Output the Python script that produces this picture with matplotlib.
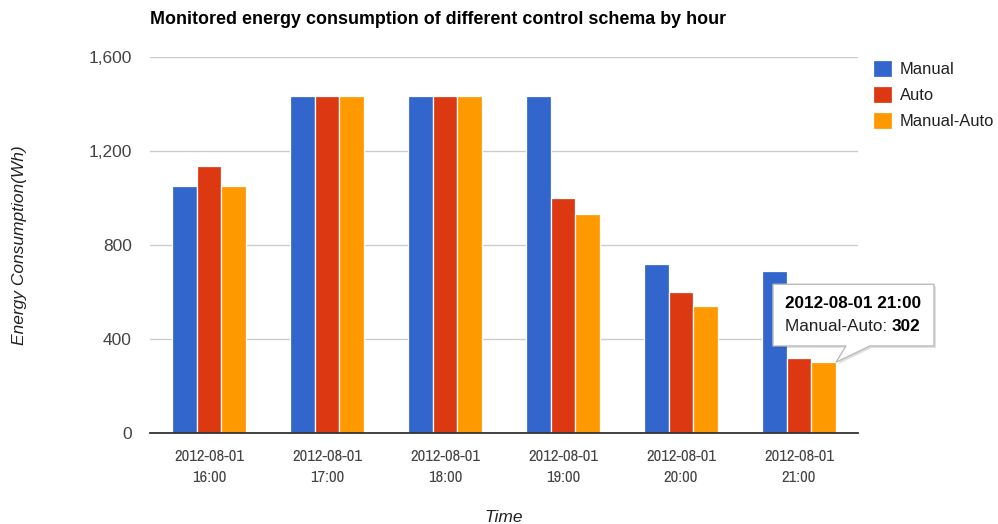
import matplotlib
matplotlib.use("Agg")
import matplotlib.pyplot as plt
import matplotlib.patches as mpatches
from matplotlib.transforms import IdentityTransform
from matplotlib import font_manager
import numpy as np

categories = ["2012-08-01\n16:00", "2012-08-01\n17:00", "2012-08-01\n18:00",
              "2012-08-01\n19:00", "2012-08-01\n20:00", "2012-08-01\n21:00"]
manual = [1053, 1436, 1436, 1436, 720, 688]
auto = [1137, 1436, 1436, 1000, 600, 319]
manual_auto = [1053, 1436, 1436, 933, 543, 302]
series_names = ["Manual", "Auto", "Manual-Auto"]
colors = ["#3366CC", "#DC3912", "#FF9900"]
yticks = [0, 400, 800, 1200, 1600]
ytick_labels = ["0", "400", "800", "1,200", "1,600"]

plt.rcParams['font.family'] = ['Liberation Sans', 'DejaVu Sans']

# look for a condensed sans font for the x labels
narrow = None
for f in font_manager.fontManager.ttflist:
    n = f.name
    if ("Narrow" in n or "Condensed" in n) and "Mono" not in n and "Serif" not in n:
        narrow = n
        break

W, H = 998, 524
fig = plt.figure(figsize=(W / 100, H / 100), dpi=100)
ax = fig.add_axes([150 / W, 1 - 433.3 / H, 708 / W, (433.3 - 57) / H])

x = np.arange(len(categories))
bw = 0.209
series = [manual, auto, manual_auto]
for j, (vals, c, name) in enumerate(zip(series, colors, series_names)):
    ax.bar(x + (j - 1) * bw, vals, width=bw, color=c, edgecolor="white",
           linewidth=0.9, label=name, zorder=3)

ax.set_xlim(-0.5, len(categories) - 0.5)
ax.set_ylim(0, 1600)
ax.set_yticks(yticks)
ax.set_yticklabels(ytick_labels)
ax.set_xticks(x)
ax.set_xticklabels(categories)
ax.grid(axis="y", color="#CCCCCC", linewidth=1, zorder=0)
for s in ["top", "right", "left"]:
    ax.spines[s].set_visible(False)
ax.spines["bottom"].set_color("#333333")
ax.spines["bottom"].set_linewidth(1.3)
ax.spines["bottom"].set_zorder(4)
ax.tick_params(axis="both", length=0, colors="#444444")
ax.tick_params(axis="y", pad=13, labelsize=12.5)
ax.tick_params(axis="x", pad=11)
for lab in ax.get_xticklabels():
    if narrow:
        lab.set_family([narrow, 'Liberation Sans'])
        lab.set_fontsize(12)
    else:
        lab.set_fontsize(11.2)
    lab.set_linespacing(1.5)

fig.text(150 / W, 1 - 20 / H, "Monitored energy consumption of different control schema by hour",
         fontsize=12.9, fontweight="bold", ha="left", va="center", color="black")
fig.text(20 / W, 1 - 245 / H, "Energy Consumption(Wh)", rotation=90, fontsize=12.5,
         fontstyle="italic", ha="center", va="center", color="#222222")
fig.text(504 / W, 1 - 517 / H, "Time", fontsize=12.5, fontstyle="italic",
         ha="center", va="center", color="#222222")

leg = fig.legend(loc="upper left", bbox_to_anchor=(866 / W, 1 - 53 / H), frameon=False,
                 fontsize=11.9, handlelength=1.2, handleheight=1.2, handletextpad=0.45,
                 labelspacing=0.55, borderaxespad=0)
for t in leg.get_texts():
    t.set_color("#222222")

# Tooltip anchored at the top-right corner of the last Manual-Auto bar
ax_x = x[-1] + bw + bw / 2
ax_y = manual_auto[-1]
px, py = ax.transData.transform((ax_x, ax_y))
box = [(-63, 16.3), (10, 16.3), (0, 0), (34, 16.3), (98, 16.3), (98, 78), (-63, 78)]
shadow = [(px + dx + 2, py + dy - 2) for dx, dy in box]
fig.patches.append(mpatches.Polygon(shadow, closed=True, transform=IdentityTransform(),
                                    facecolor="#000000", alpha=0.12, edgecolor="none",
                                    zorder=9, figure=fig))
pts = [(px + dx, py + dy) for dx, dy in box]
fig.patches.append(mpatches.Polygon(pts, closed=True, transform=IdentityTransform(),
                                    facecolor="white", edgecolor="#BBBBBB", linewidth=1,
                                    zorder=10, figure=fig))
fig.text((px - 51) / W, (py + 59) / H, "2012-08-01 21:00", fontsize=12.3, fontweight="bold",
         ha="left", va="center", color="black", zorder=11)
t1 = fig.text((px - 51) / W, (py + 36) / H, "Manual-Auto: ", fontsize=12.3,
              ha="left", va="center", color="#222222", zorder=11)
fig.canvas.draw()
bb = t1.get_window_extent()
fig.text(bb.x1 / W, (py + 36) / H, str(manual_auto[-1]), fontsize=12.3, fontweight="bold",
         ha="left", va="center", color="black", zorder=11)

fig.savefig("out.png", dpi=100)
